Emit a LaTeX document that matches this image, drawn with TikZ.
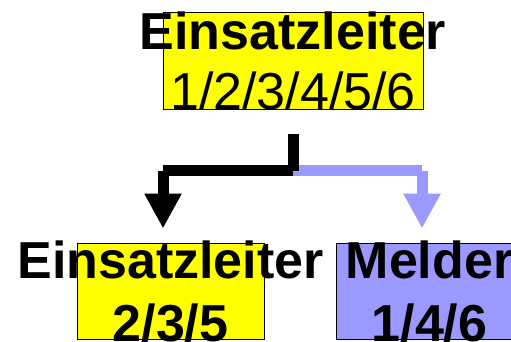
\documentclass[tikz,border=0pt]{standalone}
\usepackage{fontspec}
\setmainfont{Liberation Sans}
\usetikzlibrary{arrows.meta}
\definecolor{boxyellow}{HTML}{FFFF00}
\definecolor{boxblue}{HTML}{9999FF}
\begin{document}
\begin{tikzpicture}[x=1pt,y=-1pt,
    box/.style={draw=black,line width=1pt,inner sep=0pt,minimum width=#1},
    box/.default=187pt,
    lbl/.style={inner sep=0pt,anchor=base,font=\fontsize{52}{60}\selectfont},
    bar/.style={line width=11pt,line cap=butt},
    head/.style={-{Triangle[width=35pt,length=35pt]}}]
        \useasboundingbox (0,0) rectangle (511,342);

        \node[box=260pt,fill=boxyellow,minimum height=97pt] at (293,61.5) (leiter) {};
        \node[box,fill=boxyellow,minimum height=96pt] at (170.5,291) (leiterB) {};
        \node[box,fill=boxblue,minimum height=96pt] at (429.5,291) (melder) {};

        \node[lbl] at (293,50) (leitername) {\bfseries Einsatzleiter};
        \node[lbl] at (293,110) (leiternr) {1/2/3/4/5/6};
        \node[lbl] at (170.5,278) (leiterBname) {\bfseries Einsatzleiter};
        \node[lbl] at (170.5,341) (leiterBnr) {\bfseries 2/3/5};
        \node[lbl] at (429.5,278) (meldername) {\bfseries Melder};
        \node[lbl] at (429.5,341) (meldernr) {\bfseries 1/4/6};

        \coordinate (stemtop) at ([yshift=-24pt]leiter.south);
        \coordinate (split) at ([yshift=-60pt]leiter.south);
        \coordinate (tipB) at ([xshift=-7.5pt,yshift=14pt]leiterB.north);
        \coordinate (tipM) at ([xshift=-7.5pt,yshift=14pt]melder.north);

        \draw[bar,boxblue] (split) -- (split -| tipM);
        \draw[bar,boxblue,head] (split -| tipM) -- (tipM);
        \draw[bar,black] (stemtop) -- (split);
        \draw[bar,black] (split) -- (split -| tipB);
        \draw[bar,black,head] (split -| tipB) -- (tipB);
\end{tikzpicture}
\end{document}
